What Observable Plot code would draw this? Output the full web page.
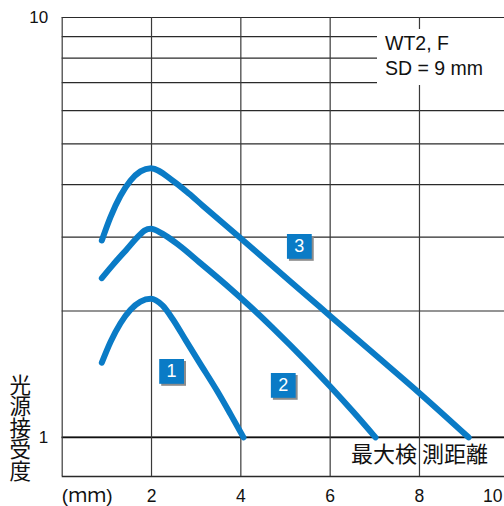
<!DOCTYPE html>
<html>
<head>
<meta charset="utf-8">
<script src="https://cdn.jsdelivr.net/npm/d3@7"></script>
<script src="https://cdn.jsdelivr.net/npm/@observablehq/plot@0.6"></script>
<style>
  body { margin: 0; background: #fff; }
  #wrap { position: relative; width: 504px; height: 506px; }
  #legend {
    position: absolute; left: 377px; top: 29px; width: 127px; height: 56px;
    background: #fff; font-family: "Liberation Sans", Arial, sans-serif;
    font-size: 19.5px; color: #111; line-height: 25px; box-sizing: border-box;
    padding-left: 8px; padding-top: 2px; white-space: nowrap;
  }
</style>
</head>
<body>
<div id="wrap"><div id="legend">WT2, F<br>SD = 9 mm</div></div>
<script>
// ---- data ----
const xTicks = [2, 4, 6, 8];
const xTickLast = [10];
const yGrid = [1, 2, 3, 4, 5, 6, 7, 8, 9, 10];
const yLabels = [1, 10];
const xGrid = [0, 2, 4, 6, 8];

const curve1X = [0.887, 1.081, 1.305, 1.529, 1.753, 1.983, 2.245, 2.469, 2.767, 3.067, 3.477, 3.768, 4.059];
const curve1Y = [1.506, 1.687, 1.870, 2.014, 2.106, 2.139, 2.062, 1.917, 1.702, 1.511, 1.286, 1.136, 1.0];

const curve2X = [0.887, 1.126, 1.424, 1.724, 1.842, 1.983, 2.245, 2.619, 3.067, 3.768, 4.216, 4.730, 5.491, 6.006, 6.521, 7.014];
const curve2Y = [2.395, 2.568, 2.788, 3.027, 3.108, 3.140, 3.055, 2.865, 2.615, 2.260, 2.047, 1.816, 1.507, 1.320, 1.149, 1.0];

const curve3X = [0.887, 1.081, 1.305, 1.529, 1.753, 1.983, 2.469, 2.843, 3.141, 3.996, 4.730, 5.491, 6.006, 6.969, 8.021, 9.10];
const curve3Y = [2.945, 3.348, 3.763, 4.090, 4.301, 4.378, 4.092, 3.804, 3.568, 2.979, 2.548, 2.169, 1.944, 1.586, 1.269, 1.0];

const boxLabel = ["1", "2", "3"];
const boxX = [2.45, 4.95, 5.31];
const boxY = [1.436, 1.33, 2.85];

const yTitle = "光源接受度";
const xUnit = "(ｍｍ)";
const rangeText = "最大検 測距離";
const rangeX = 8;
const rangeY = 0.906;

// ---- build ----
const blue = "#0a7bc6";
const series = [
  {id: "1", xs: curve1X, ys: curve1Y},
  {id: "2", xs: curve2X, ys: curve2Y},
  {id: "3", xs: curve3X, ys: curve3Y}
].flatMap(s => s.xs.map((x, i) => ({series: s.id, x, y: s.ys[i]})));
const boxes = boxLabel.map((l, i) => ({label: l, x: boxX[i], y: boxY[i]}));

const font = "'Liberation Sans', Arial, sans-serif";
const cjk = "'Noto Sans CJK JP', 'Noto Sans CJK SC', sans-serif";

const chart = Plot.plot({
  width: 504,
  height: 506,
  marginLeft: 61.7,
  marginRight: -4.3,
  marginTop: 17,
  marginBottom: 30,
  style: {background: "#fff", fontFamily: font, fontSize: "17px", overflow: "visible"},
  x: {domain: [0, 10]},
  y: {type: "log", domain: [0.807, 10]},
  marks: [
    Plot.ruleY(yGrid, {stroke: "#2a2a2a", strokeWidth: 1.2}),
    Plot.ruleY([1], {stroke: "#111", strokeWidth: 1.6}),
    Plot.ruleY([0.807], {stroke: "#2a2a2a", strokeWidth: 1.5}),
    Plot.ruleX(xGrid, {stroke: "#3a3a3a", strokeWidth: 1.2}),
    Plot.axisY(yLabels, {tickSize: 0, tickPadding: 14, fontSize: 17, fill: "#111", label: null, tickFormat: d => String(d)}),
    Plot.axisX(xTicks, {tickSize: 0, tickPadding: 13, fontSize: 17.5, fill: "#111", label: null}),
    Plot.axisX(xTickLast, {tickSize: 0, tickPadding: 13, fontSize: 17.5, fill: "#111", label: null, dx: -16}),
    Plot.text([xUnit], {frameAnchor: "bottom-left", textAnchor: "middle", dx: 25, dy: 19, fontSize: 19, fill: "#111", lineAnchor: "middle", fontFamily: font + ", " + cjk}),
    Plot.text([yTitle], {frameAnchor: "bottom-left", textAnchor: "middle", dx: -42, dy: -49, fontSize: 21.5, fill: "#111", lineAnchor: "bottom", fontFamily: cjk}),
    Plot.text([rangeText], {x: () => rangeX, y: () => rangeY, fontSize: 22, fill: "#111", fontFamily: cjk}),
    Plot.line(series, {x: "x", y: "y", z: "series", stroke: blue, strokeWidth: 6, curve: "monotone-x", strokeLinecap: "round", strokeLinejoin: "round"}),
    Plot.dot(boxes, {x: "x", y: "y", symbol: "square", r: 14, fill: "#8c8c8c", dx: 2, dy: 2}),
    Plot.dot(boxes, {x: "x", y: "y", symbol: "square", r: 14, fill: blue}),
    Plot.text(boxes, {x: "x", y: "y", text: "label", fill: "#fff", fontSize: 18, fontFamily: font})
  ]
});
// vertical (stacked) writing for the y title
d3.select(chart).selectAll("text").filter(function () { return this.textContent === yTitle; })
  .style("writing-mode", "vertical-rl")
  .attr("text-anchor", "middle");
document.getElementById("wrap").prepend(chart);
</script>
</body>
</html>
